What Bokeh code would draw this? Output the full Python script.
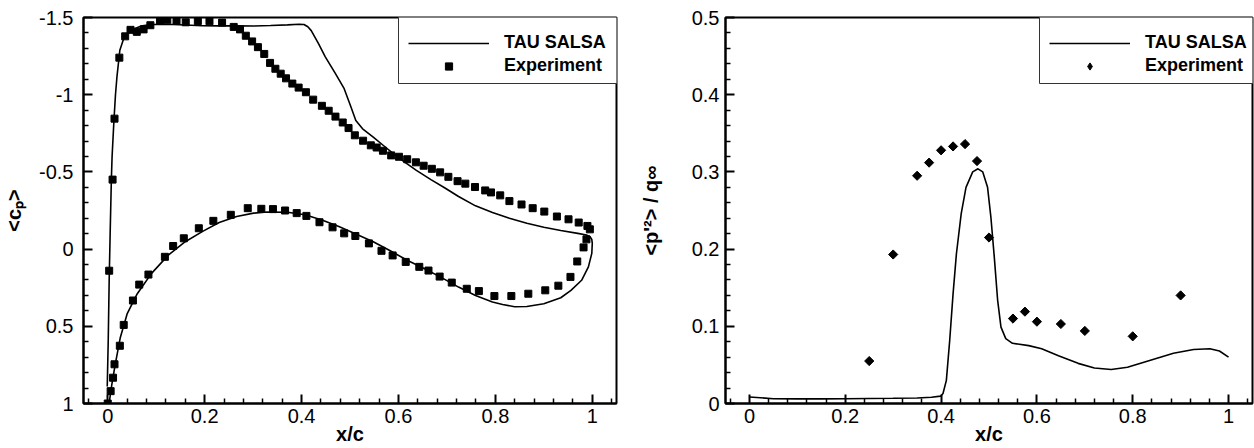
import numpy as np
from bokeh.plotting import figure
from bokeh.models import (Range1d, FixedTicker, CustomJSTickFormatter,
                          Legend, LegendItem, BoxAnnotation)
from bokeh.layouts import row
from bokeh.embed import file_html
from bokeh.resources import INLINE

# ---------------- data: left panel (mean pressure coefficient) ----------------
cp_exp_x = [0.003, 0.010, 0.014, 0.024, 0.036, 0.047, 0.060, 0.074, 0.088, 0.108,
            0.123, 0.142, 0.161, 0.186, 0.210, 0.236, 0.260, 0.273, 0.285, 0.298,
            0.310, 0.323, 0.335, 0.346, 0.357, 0.368, 0.381, 0.394, 0.409, 0.424,
            0.442, 0.456, 0.470, 0.485, 0.497, 0.510, 0.527, 0.543, 0.555, 0.568,
            0.585, 0.601, 0.618, 0.636, 0.652, 0.669, 0.686, 0.703, 0.722, 0.738,
            0.758, 0.779, 0.791, 0.810, 0.829, 0.854, 0.877, 0.901, 0.927, 0.951,
            0.972, 0.990, 0.995,
            0.000, 0.006, 0.011, 0.014, 0.025, 0.033, 0.052, 0.065, 0.084, 0.118,
            0.135, 0.157, 0.188, 0.218, 0.254, 0.289, 0.317, 0.341, 0.366, 0.390,
            0.410, 0.437, 0.464, 0.488, 0.511, 0.539, 0.565, 0.588, 0.615, 0.643,
            0.662, 0.685, 0.710, 0.741, 0.766, 0.798, 0.833, 0.868, 0.903, 0.930,
            0.955, 0.969, 0.982, 0.988]
cp_exp_y = [0.140, -0.450, -0.845, -1.240, -1.378, -1.420, -1.407, -1.423, -1.450, -1.478,
            -1.485, -1.477, -1.469, -1.477, -1.476, -1.467, -1.439, -1.423, -1.382, -1.345,
            -1.308, -1.264, -1.206, -1.168, -1.136, -1.106, -1.072, -1.046, -1.016, -0.968,
            -0.928, -0.896, -0.858, -0.820, -0.784, -0.737, -0.702, -0.672, -0.658, -0.637,
            -0.607, -0.598, -0.582, -0.562, -0.540, -0.520, -0.497, -0.468, -0.440, -0.424,
            -0.402, -0.380, -0.367, -0.348, -0.311, -0.289, -0.265, -0.243, -0.211, -0.193,
            -0.172, -0.150, -0.128,
            1.000, 0.920, 0.833, 0.746, 0.626, 0.491, 0.333, 0.230, 0.165, 0.050,
            -0.020, -0.070, -0.135, -0.183, -0.222, -0.265, -0.261, -0.259, -0.250, -0.233,
            -0.215, -0.174, -0.141, -0.102, -0.085, -0.037, 0.011, 0.041, 0.083, 0.115,
            0.139, 0.178, 0.217, 0.257, 0.272, 0.304, 0.304, 0.289, 0.267, 0.237,
            0.180, 0.080, -0.011, -0.063]

cp_tau_x = [-0.001, 0.001, 0.003, 0.005, 0.0075, 0.009, 0.013, 0.016, 0.019, 0.025,
            0.033, 0.047, 0.068, 0.090, 0.125, 0.160, 0.195, 0.230, 0.266, 0.301,
            0.336, 0.371, 0.395, 0.405, 0.413, 0.420, 0.435, 0.449, 0.470, 0.488,
            0.502, 0.512, 0.526, 0.548, 0.569, 0.590, 0.607, 0.637, 0.667, 0.696,
            0.724, 0.759, 0.794, 0.829, 0.865, 0.900, 0.935, 0.970, 0.988, 0.996,
            0.999, 1.000, 0.999, 0.992, 0.978, 0.956, 0.935, 0.900, 0.865, 0.840,
            0.815, 0.794, 0.759, 0.724, 0.689, 0.653, 0.618, 0.583, 0.548, 0.512,
            0.477, 0.442, 0.407, 0.371, 0.329, 0.301, 0.266, 0.230, 0.195, 0.160,
            0.125, 0.090, 0.061, 0.040, 0.026, 0.0155, 0.0085, 0.0035]
cp_tau_y = [0.890, 0.600, 0.200, -0.100, -0.450, -0.600, -0.844, -1.000, -1.115, -1.288,
            -1.364, -1.418, -1.444, -1.455, -1.456, -1.451, -1.447, -1.446, -1.446, -1.445,
            -1.448, -1.452, -1.456, -1.455, -1.440, -1.415, -1.331, -1.245, -1.136, -1.039,
            -0.920, -0.833, -0.779, -0.725, -0.671, -0.617, -0.576, -0.510, -0.450, -0.396,
            -0.341, -0.280, -0.237, -0.200, -0.167, -0.141, -0.120, -0.102, -0.091, -0.078,
            -0.063, -0.037, 0.028, 0.115, 0.202, 0.267, 0.315, 0.354, 0.372, 0.373,
            0.359, 0.343, 0.300, 0.246, 0.185, 0.126, 0.072, 0.011, -0.048, -0.098,
            -0.146, -0.189, -0.222, -0.239, -0.240, -0.233, -0.211, -0.172, -0.113, -0.048,
            0.039, 0.159, 0.289, 0.420, 0.572, 0.746, 0.876, 0.985]

# ---------------- data: right panel (pressure fluctuation) ----------------
pf_exp_x = [0.25, 0.30, 0.35, 0.375, 0.40, 0.425, 0.45, 0.475, 0.50, 0.55,
            0.575, 0.60, 0.65, 0.70, 0.80, 0.90]
pf_exp_y = [0.055, 0.193, 0.295, 0.312, 0.328, 0.333, 0.336, 0.314, 0.215, 0.110,
            0.119, 0.106, 0.103, 0.094, 0.087, 0.140]

pf_tau_x = [0.0, 0.05, 0.10, 0.15, 0.20, 0.25, 0.30, 0.35, 0.38, 0.399,
            0.404, 0.411, 0.418, 0.425, 0.432, 0.442, 0.452, 0.466, 0.477, 0.487,
            0.497, 0.504, 0.511, 0.518, 0.525, 0.535, 0.549, 0.583, 0.610, 0.645,
            0.686, 0.720, 0.755, 0.789, 0.837, 0.885, 0.927, 0.961, 0.981, 1.0]
pf_tau_y = [0.0085, 0.0062, 0.006, 0.006, 0.0062, 0.0065, 0.0068, 0.0072, 0.008, 0.0095,
            0.013, 0.030, 0.082, 0.142, 0.194, 0.246, 0.280, 0.300, 0.304, 0.300,
            0.280, 0.241, 0.190, 0.134, 0.099, 0.084, 0.078, 0.075, 0.071, 0.062,
            0.052, 0.046, 0.044, 0.047, 0.056, 0.065, 0.070, 0.071, 0.068, 0.060]

# ---------------- ticks and labels ----------------
x_major_ticks = [0.0, 0.2, 0.4, 0.6, 0.8, 1.0]
cp_major_ticks = [-1.5, -1.0, -0.5, 0.0, 0.5, 1.0]
pf_major_ticks = [0.0, 0.1, 0.2, 0.3, 0.4, 0.5]

x_label = "x/c"
y_label_left = "<c\u209a>"
y_label_right = "<p'\u00b2> / q\u221e"
legend_labels = ["TAU SALSA", "Experiment"]

FONT = "Liberation Sans"
FMT = "return Number(tick.toFixed(3)).toString();"
FRAME_H = 386


def minor_ticks(majors, lo, hi, n=5):
    step = (majors[1] - majors[0]) / n
    vals = np.round(np.arange(lo, hi + step / 2, step), 4)
    return [float(v) for v in vals
            if min(abs(v - m) for m in majors) > step / 4]


def style_axes(p, xr, yr, y_majors, ylab, y_label_standoff, y_major_standoff):
    p.xgrid.visible = False
    p.ygrid.visible = False
    p.outline_line_color = "black"
    p.outline_line_width = 2
    p.outline_line_alpha = 1
    p.background_fill_color = "white"
    p.border_fill_color = "white"
    p.xaxis.ticker = FixedTicker(ticks=x_major_ticks,
                                 minor_ticks=minor_ticks(x_major_ticks, -0.04, 1.04))
    p.yaxis.ticker = FixedTicker(ticks=y_majors,
                                 minor_ticks=minor_ticks(y_majors, min(yr), max(yr)))
    for ax in (p.xaxis[0], p.yaxis[0]):
        ax.formatter = CustomJSTickFormatter(code=FMT)
        ax.axis_line_width = 2
        ax.axis_line_color = "black"
        ax.major_tick_line_color = "black"
        ax.minor_tick_line_color = "black"
        ax.major_tick_line_width = 2
        ax.minor_tick_line_width = 1.5
        ax.major_tick_in = 9
        ax.major_tick_out = 0
        ax.minor_tick_in = 5
        ax.minor_tick_out = 0
        ax.major_label_text_font = FONT
        ax.major_label_text_font_size = "20px"
        ax.major_label_text_color = "black"
        ax.axis_label_text_font = FONT
        ax.axis_label_text_font_style = "bold"
        ax.axis_label_text_font_size = "20px"
        ax.axis_label_text_color = "black"
    p.xaxis.axis_label = x_label
    p.xaxis.axis_label_standoff = -3
    p.xaxis.major_label_standoff = 5
    p.yaxis.axis_label = ylab
    p.yaxis.axis_label_standoff = y_label_standoff
    p.yaxis.major_label_standoff = y_major_standoff


def add_legend(p, frame_w, line_r, pts_r):
    box = BoxAnnotation(left=frame_w - 219, right=frame_w + 1,
                        bottom=FRAME_H - 66, top=FRAME_H + 1,
                        left_units="screen", right_units="screen",
                        bottom_units="screen", top_units="screen",
                        fill_color="white", fill_alpha=1,
                        line_color="#333333", line_width=1, line_alpha=1)
    p.add_layout(box)
    leg = Legend(items=[LegendItem(label=legend_labels[0], renderers=[line_r]),
                        LegendItem(label=legend_labels[1], renderers=[pts_r])],
                 location=(frame_w - 219, FRAME_H - 69), margin=0, padding=10,
                 spacing=2, glyph_width=81, glyph_height=18, label_height=20,
                 label_standoff=15, inactive_fill_alpha=0,
                 border_line_alpha=0, background_fill_alpha=0,
                 label_text_font=FONT, label_text_font_style="bold",
                 label_text_font_size="18px", label_text_color="black")
    p.add_layout(leg)


# ---------------- left figure ----------------
x_rng = (-0.05, 1.05)
cp_rng = (1.0, -1.5)
p1 = figure(width=636, height=448, x_range=Range1d(*x_rng),
            y_range=Range1d(*cp_rng), output_backend="svg", toolbar_location=None,
            min_border_left=82, min_border_right=20, min_border_top=17,
            min_border_bottom=45)
style_axes(p1, x_rng, cp_rng, cp_major_ticks, y_label_left, 11, 10)
l1 = p1.line(cp_tau_x, cp_tau_y, line_color="black", line_width=1.6)
s1 = p1.scatter(cp_exp_x, cp_exp_y, marker="square", size=7,
                fill_color="black", line_color="black")
add_legend(p1, 534, l1, s1)

# ---------------- right figure ----------------
pf_rng = (0.0, 0.5)
p2 = figure(width=618, height=448, x_range=Range1d(*x_rng),
            y_range=Range1d(*pf_rng), output_backend="svg", toolbar_location=None,
            min_border_left=83, min_border_right=2, min_border_top=17,
            min_border_bottom=45)
style_axes(p2, x_rng, pf_rng, pf_major_ticks, y_label_right, 27, 6)
l2 = p2.line(pf_tau_x, pf_tau_y, line_color="black", line_width=1.6)
# diamond key for the legend (drawn beneath the rotated-square markers)
s2_key = p2.scatter(pf_exp_x, pf_exp_y, marker="diamond", size=6,
                    fill_color="black", line_color="black")
s2 = p2.scatter(pf_exp_x, pf_exp_y, marker="square", angle=np.pi / 4, size=6.5,
                fill_color="black", line_color="black")
add_legend(p2, 533, l2, s2_key)

layout = row(p1, p2, spacing=0)
open("out.html", "w").write(file_html(layout, INLINE))
